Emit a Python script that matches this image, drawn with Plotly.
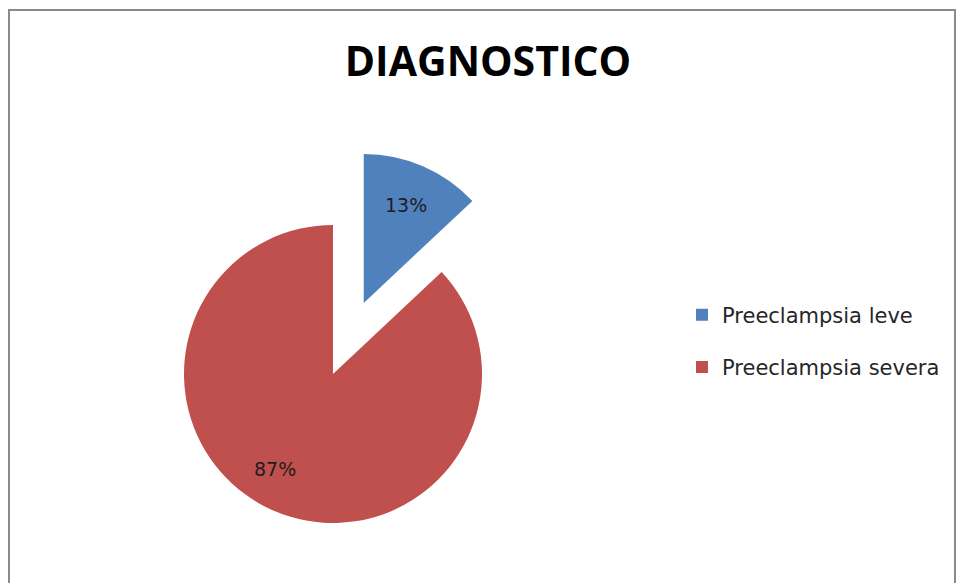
import math
import plotly.graph_objects as go

# ---- data ----
title_text = "DIAGNOSTICO"
labels = ["Preeclampsia leve", "Preeclampsia severa"]
values = [13, 87]
colors = ["#4F81BD", "#C0504D"]
exploded = [True, False]      # which slice is pulled out of the pie
pull_frac = 0.52              # explosion distance as a fraction of the radius

# ---- layout constants (pixels) ----
W, H = 958, 583
CX, CY, R = 333, 374, 149     # centre and radius of the pie
LABEL_R = 0.745               # radial position of the large-slice label (fraction of R)
LABEL_DANG = 8                # angular nudge of the large-slice label (degrees)

fig = go.Figure()
annotations = []

total = sum(values)
cum = 0.0
for i, (lab, v, c) in enumerate(zip(labels, values, colors)):
    mid = 2 * math.pi * (cum + v / 2) / total
    cum += v
    off = pull_frac * R if exploded[i] else 0.0
    cx = CX + off * math.sin(mid)
    cy = CY - off * math.cos(mid)
    slice_colors = [c if j == i else "rgba(0,0,0,0)" for j in range(len(labels))]
    native = exploded[i]
    tt = ["%{percent:.0%}" if (j == i and native) else "" for j in range(len(labels))]
    fig.add_trace(go.Pie(
        labels=labels, values=values, sort=False,
        direction="clockwise", rotation=0,
        marker=dict(colors=slice_colors, line=dict(width=0)),
        texttemplate=tt, textposition="inside",
        insidetextorientation="horizontal",
        textfont=dict(family="DejaVu Sans", size=19, color="#1e1e1e"),
        hoverinfo="skip", showlegend=False,
        domain=dict(x=[(cx - R) / W, (cx + R) / W],
                    y=[1 - (cy + R) / H, 1 - (cy - R) / H]),
    ))
    if not native:
        a = mid + math.radians(LABEL_DANG)
        lx = cx + LABEL_R * R * math.sin(a)
        ly = cy - LABEL_R * R * math.cos(a)
        annotations.append(dict(
            text=f"{round(100 * v / total)}%", x=lx / W, y=1 - ly / H,
            xref="paper", yref="paper", showarrow=False,
            xanchor="center", yanchor="middle",
            font=dict(family="DejaVu Sans", size=19, color="#1e1e1e")))

# legend entries
for i, (lab, c) in enumerate(zip(labels, colors)):
    fig.add_trace(go.Scatter(
        x=[None], y=[None], mode="markers", name=lab,
        legendgroup=f"g{i}",
        marker=dict(symbol="square", size=12, color=c),
        hoverinfo="skip",
    ))

fig.update_layout(
    width=W, height=H,
    margin=dict(l=0, r=0, t=0, b=0),
    paper_bgcolor="white", plot_bgcolor="white",
    xaxis=dict(visible=False), yaxis=dict(visible=False),
    title=dict(text=title_text, x=488 / W, y=1 - 62 / H,
               xanchor="center", yanchor="middle",
               font=dict(family="Open Sans", size=41, color="#000000", weight="bold")),
    legend=dict(x=682 / W, y=1 - 341 / H, xanchor="left", yanchor="middle",
                traceorder="grouped", tracegroupgap=22,
                font=dict(family="DejaVu Sans", size=21, color="#262626"),
                bgcolor="rgba(0,0,0,0)"),
    annotations=annotations,
    shapes=[dict(type="rect", xref="paper", yref="paper",
                 x0=9 / W, x1=955 / W, y0=-0.05, y1=1 - 10 / H,
                 line=dict(color="#8a8a8a", width=2), fillcolor="rgba(0,0,0,0)",
                 layer="below")],
)

fig.write_html("out.html",
               config={"displayModeBar": False},
               post_script="document.body.style.margin='0';document.body.style.padding='0';")
